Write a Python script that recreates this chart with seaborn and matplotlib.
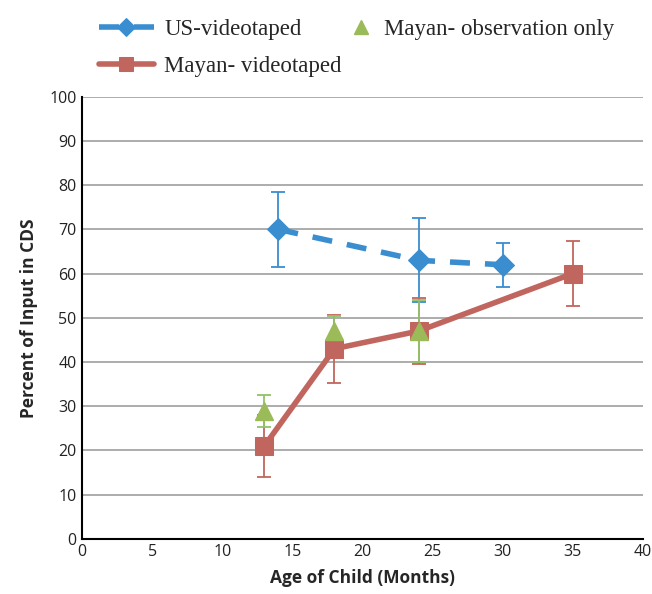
import matplotlib
matplotlib.use("Agg")
import matplotlib.pyplot as plt
import seaborn as sns
import pandas as pd
import numpy as np

# Data
us_age = [14, 24, 30]
us_val = [70, 63, 62]
us_lo = [61.5, 53.5, 57]
us_hi = [78.5, 72.5, 67]

mv_age = [13, 18, 24, 35]
mv_val = [21, 43, 47, 60]
mv_lo = [14, 35.3, 39.5, 52.7]
mv_hi = [28, 50.7, 54.5, 67.3]

mo_age = [13, 18, 24]
mo_val = [29, 47, 47]
mo_lo = [25.4, 43.5, 40]
mo_hi = [32.6, 50.5, 54]

blue = "#3A8ED0"
red = "#C1665E"
green = "#9BBB59"

sns.set_style("white")
fig = plt.figure(figsize=(6.52, 5.94), dpi=100)
ax = fig.add_axes([0.126, 0.093, 0.86, 0.744])

def errs(val, lo, hi):
    v = np.array(val); return [v - np.array(lo), np.array(hi) - v]

ax.errorbar(us_age, us_val, yerr=errs(us_val, us_lo, us_hi), fmt="none",
            ecolor=blue, elinewidth=1.3, capsize=5, capthick=1.3, zorder=3)
ax.errorbar(mv_age, mv_val, yerr=errs(mv_val, mv_lo, mv_hi), fmt="none",
            ecolor=red, elinewidth=1.3, capsize=5, capthick=1.3, zorder=3)
ax.errorbar(mo_age, mo_val, yerr=errs(mo_val, mo_lo, mo_hi), fmt="none",
            ecolor="#8FC46A", elinewidth=1.3, capsize=5, capthick=1.3, zorder=3)

df_us = pd.DataFrame({"x": us_age, "y": us_val})
df_mv = pd.DataFrame({"x": mv_age, "y": mv_val})
df_mo = pd.DataFrame({"x": mo_age, "y": mo_val})

sns.lineplot(data=df_us, x="x", y="y", ax=ax, color=blue, linewidth=4,
             linestyle=(0, (3.6, 2.7)), marker="D", markersize=11,
             markeredgecolor=blue, label="US-videotaped", zorder=4)
sns.lineplot(data=df_mv, x="x", y="y", ax=ax, color=red, linewidth=4,
             marker="s", markersize=13, markeredgecolor=red,
             label="Mayan- videotaped", zorder=4)
ax.plot(mo_age, mo_val, linestyle="none", marker="^", markersize=13,
        color=green, markeredgecolor=green, label="Mayan- observation only", zorder=5)

ax.set_xlim(0, 40)
ax.set_ylim(0, 100)
ax.set_xticks(range(0, 41, 5))
ax.set_yticks(range(0, 101, 10))
ax.yaxis.grid(True, color="#A6A6A6", linewidth=1.3)
ax.set_axisbelow(True)
for s in ["top", "right"]:
    ax.spines[s].set_visible(False)
for s in ["left", "bottom"]:
    ax.spines[s].set_color("black")
    ax.spines[s].set_linewidth(1.5)
ax.tick_params(axis="both", length=0, labelsize=11.5, colors="#222222", pad=4)
for lab in ax.get_xticklabels() + ax.get_yticklabels():
    lab.set_fontfamily("Open Sans")
ax.set_xlabel("Age of Child (Months)", fontsize=12.5, fontweight="bold",
              fontfamily="Open Sans", labelpad=6)
ax.set_ylabel("Percent of Input in CDS", fontsize=12.5, fontweight="bold",
              fontfamily="Open Sans", labelpad=8)

h, l = ax.get_legend_handles_labels()
hd = dict(zip(l, h))
prop = {"family": "Liberation Serif", "size": 16.5}
leg1 = ax.legend([hd["US-videotaped"], hd["Mayan- videotaped"]],
                 ["US-videotaped", "Mayan- videotaped"],
                 loc="upper left", bbox_to_anchor=(0.03, 1.176), frameon=False,
                 prop=prop, handlelength=2.4, handletextpad=0.45, labelspacing=0.68,
                 borderaxespad=0, borderpad=0, markerscale=0.8)
ax.add_artist(leg1)
leg2 = ax.legend([hd["Mayan- observation only"]], ["Mayan- observation only"],
                 loc="upper left", bbox_to_anchor=(0.477, 1.176), frameon=False,
                 prop=prop, handlelength=1.0, handletextpad=0.5,
                 borderaxespad=0, borderpad=0, markerscale=0.8)

fig.savefig("out.png", dpi=100)
